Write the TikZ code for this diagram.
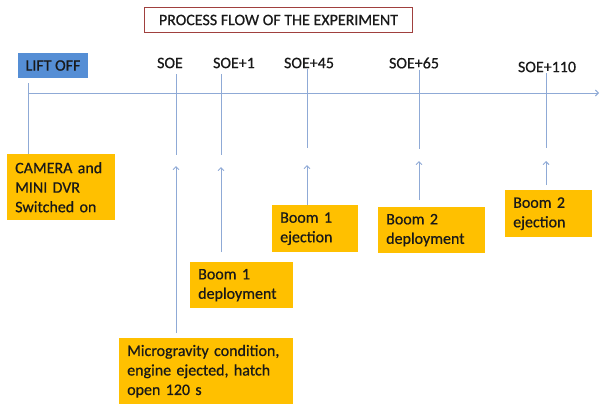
\documentclass[tikz,border=0pt]{standalone}
\usepackage{fontspec}
\setmainfont{Carlito}[FakeBold=0.6]
\usepackage{xcolor}
\usepackage{tikz}
\usetikzlibrary{positioning, arrows.meta}
\definecolor{linecol}{RGB}{143,170,214}
\definecolor{boxcol}{RGB}{255,192,0}
\definecolor{liftcol}{RGB}{85,142,213}
\definecolor{titlecol}{RGB}{160,64,62}
\definecolor{inkcol}{RGB}{25,25,25}
\tikzset{
    lbl/.style={font=\fontsize{16}{19.5}\selectfont, text=inkcol, inner sep=1pt},
    evt/.style={lbl, fill=boxcol, anchor=north west, align=left, inner xsep=8pt, inner ysep=0pt},
    tick/.style={draw=linecol, line width=0.9pt},
    tip/.style={-{Straight Barb[length=3pt, width=6pt]}},
}

\begin{document}
\begin{tikzpicture}[x=1pt, y=-1pt]
        \useasboundingbox (0,0) rectangle (600,405);
        \coordinate (t0) at (28,93);
        \coordinate (t1) at (599,93);
        \coordinate (soeA) at (176,155);
        \coordinate (soeB) at (176,166);
        \coordinate (soe1A) at (221,155);
        \coordinate (soe1B) at (221,167);
        \coordinate (soe45A) at (307,148);
        \coordinate (soe45B) at (307,165);
        \coordinate (soe65A) at (419,149);
        \coordinate (soe65B) at (419,161);
        \coordinate (soe110A) at (546,148);
        \coordinate (soe110B) at (546,161);
        \node[lbl, draw=titlecol, line width=1.4pt, minimum width=268pt, minimum height=25pt] (title) at (278.5,20) {PROCESS FLOW OF THE EXPERIMENT};
        \node[lbl, fill=liftcol, minimum width=70pt, minimum height=25pt] (lift) at (53,65.5) {LIFT OFF};
        \node[lbl] (soe) at (170,63) {SOE};
        \node[lbl] (soe1) at (234,63) {SOE+1};
        \node[lbl] (soe45) at (309,63) {SOE+45};
        \node[lbl] (soe65) at (414,63) {SOE+65};
        \node[lbl] (soe110) at (547,67) {SOE+110};
        \node[evt, text width=92pt, minimum height=66pt] (camera) at (7,154) {CAMERA and\\MINI DVR\\Switched on};
        \node[evt, text width=158pt, minimum height=66pt] (micro) at (119,338) {Microgravity condition,\\engine ejected, hatch\\open 120 s};
        \node[evt, text width=87pt, minimum height=46pt] (boomAdep) at (190,262) {Boom 1\\deployment};
        \node[evt, text width=70pt, minimum height=47pt] (boomAej) at (272,205) {Boom 1\\ejection};
        \node[evt, text width=91pt, minimum height=46pt] (boomBdep) at (378,207) {Boom 2\\deployment};
        \node[evt, text width=71pt, minimum height=47pt] (boomBej) at (505,190) {Boom 2\\ejection};
        \draw[tick, tip] (t0) -- (t1);
        \draw[tick, shorten <=5pt] (lift.south -| t0) -- (camera.north -| t0);
        \draw[tick, shorten <=5pt] (soe.south -| soeA) -- (soeA);
        \draw[tick, shorten <=5pt] (soe1.south -| soe1A) -- (soe1A);
        \draw[tick] (soe45.south -| soe45A) -- (soe45A);
        \draw[tick] (soe65.south -| soe65A) -- (soe65A);
        \draw[tick] (soe110.south -| soe110A) -- (soe110A);
        \draw[tick, tip, shorten <=5pt] (micro.north -| soeB) -- (soeB);
        \draw[tick, tip, shorten <=10pt] (boomAdep.north -| soe1B) -- (soe1B);
        \draw[tick, tip] (boomAej.north -| soe45B) -- (soe45B);
        \draw[tick, tip, shorten <=7pt] (boomBdep.north -| soe65B) -- (soe65B);
        \draw[tick, tip, shorten <=5pt] (boomBej.north -| soe110B) -- (soe110B);
    \end{tikzpicture}
\end{document}
